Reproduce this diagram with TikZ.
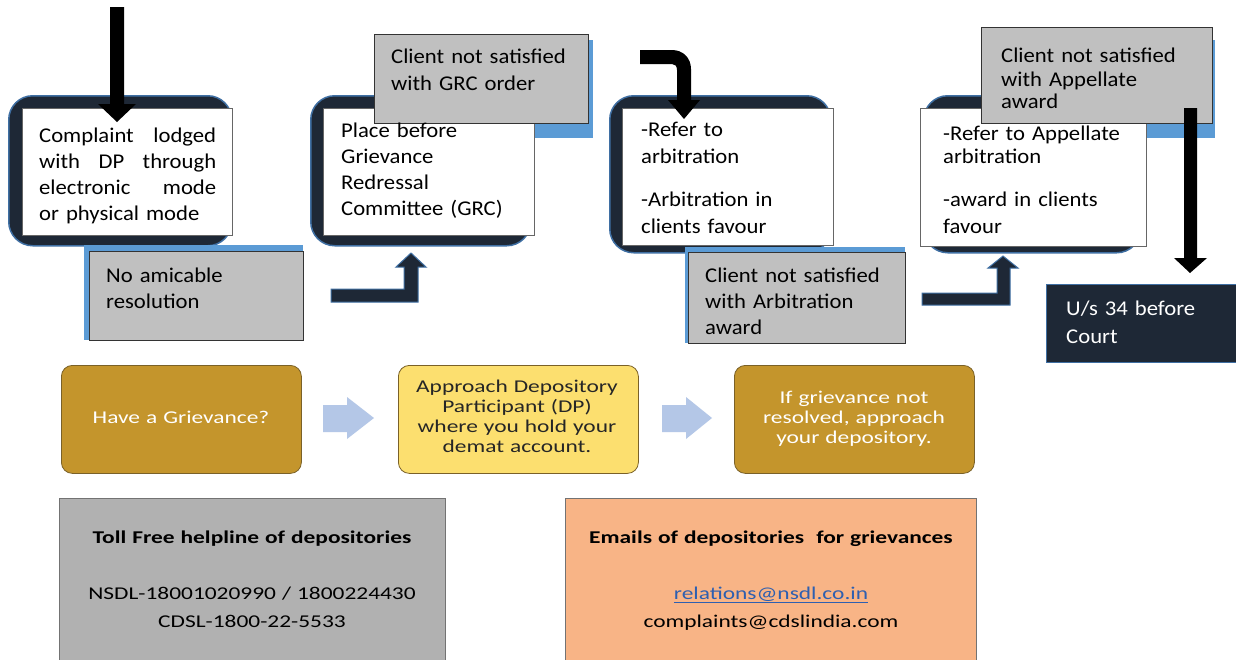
\documentclass[tikz,border=0pt]{standalone}
\usepackage{fontspec}
\setmainfont{Carlito}
\newfontfamily\topf[FakeStretch=1.08]{Carlito}
\newfontfamily\midf[FakeStretch=1.3]{Carlito}
\definecolor{navy}{HTML}{1E2836}
\definecolor{edgeblue}{HTML}{3F6FA3}
\definecolor{stripblue}{HTML}{5B9BD5}
\definecolor{greybox}{HTML}{C0C0C0}
\definecolor{golden}{HTML}{C4952C}
\definecolor{goldedge}{HTML}{7A6128}
\definecolor{yellowbox}{HTML}{FCDF6F}
\definecolor{chevron}{HTML}{B4C7E7}
\definecolor{lowgrey}{HTML}{B1B1B1}
\definecolor{loworange}{HTML}{F8B486}
\definecolor{linkblue}{HTML}{2E5FB0}
\newcommand{\jline}[1]{\leavevmode\hbox to 177pt{#1}}
\begin{document}
\begin{tikzpicture}[x=1pt,y=-1pt,
  darkbox/.style={draw=edgeblue,line width=1.5pt,fill=navy,rounded corners=24pt,anchor=north west,inner sep=0},
  whitebox/.style={draw=black!60,line width=0.6pt,fill=white,anchor=north west,inner sep=0},
  stripbox/.style={fill=stripblue,anchor=north west,inner sep=0},
  greynote/.style={draw=black!80,line width=1pt,fill=greybox,anchor=north west,inner sep=0},
  courtbox/.style={draw=edgeblue,line width=1pt,fill=navy,anchor=north west,inner sep=0},
  stepbox/.style={draw=goldedge,line width=0.8pt,rounded corners=11pt,anchor=north west,inner sep=0,minimum width=240pt,minimum height=108pt},
  infobox/.style={draw=black!55,line width=0.8pt,anchor=north west,inner sep=0},
  toptxt/.style={anchor=base west,inner sep=0,align=left,text width=220pt,font=\topf\fontsize{21}{26}\selectfont},
  midtxt/.style={anchor=base,inner sep=0,align=center,text width=230pt,font=\midf\fontsize{18}{20}\selectfont},
  lowtxt/.style={anchor=base,inner sep=0,align=center,text width=400pt,font=\midf\fontsize{18}{28}\selectfont},
  blackarrow/.style={fill=black},
  elbow/.style={fill=navy,draw=edgeblue,line width=1pt},
  chev/.style={fill=chevron}
]
\useasboundingbox (0,0) rectangle (1236,659);
\fill[white] (0,0) rectangle (1236,659);

% dark rounded backgrounds
\node[darkbox,minimum width=223pt,minimum height=150pt] (d1) at (8,95) {};
\node[darkbox,minimum width=220pt,minimum height=150pt] (d2) at (310,95) {};
\node[darkbox,minimum width=221pt,minimum height=157pt] (d3) at (609,95) {};
\node[darkbox,minimum width=217pt,minimum height=157pt] (d4) at (923,95) {};

% blue strips behind upper grey notes
\node[stripbox,minimum width=213pt,minimum height=98pt] (s2) at (380,40) {};
\node[stripbox,minimum width=215pt,minimum height=98pt] (s4) at (1000,40) {};

% white boxes
\node[whitebox,minimum width=210pt,minimum height=127pt] (w1) at (22,108) {};
\node[whitebox,minimum width=211pt,minimum height=127pt] (w2) at (323,108) {};
\node[whitebox,minimum width=211pt,minimum height=137pt] (w3) at (622,108) {};
\node[whitebox,minimum width=226pt,minimum height=138pt] (w4) at (920,108) {};

% blue strips behind lower grey notes
\node[stripbox,minimum width=219pt,minimum height=95pt] (s1) at (84,245) {};
\node[stripbox,minimum width=220pt,minimum height=96pt] (s3) at (685,247) {};

% grey notes
\node[greynote,minimum width=214pt,minimum height=89pt] (g1) at (89,251) {};
\node[greynote,minimum width=214pt,minimum height=89pt] (g2) at (374,34) {};
\node[greynote,minimum width=217pt,minimum height=91pt] (g3) at (688,252) {};
\node[greynote,minimum width=231pt,minimum height=96pt] (g4) at (981,27) {};
\node[courtbox,minimum width=192pt,minimum height=78pt] (court) at (1046,284) {};

% texts of the upper flow
\node[toptxt] (t1) at (39,142) {\jline{Complaint\hfill lodged}\\\jline{with\hfill DP\hfill through}\\\jline{electronic\hfill mode}\\or physical mode};
\node[toptxt] (t2) at (341,137) {Place before\\Grievance\\Redressal\\Committee (GRC)};
\node[toptxt] (t3) at (641,136) {-Refer to\\[1pt]arbitration\\[17pt]-Arbitration in\\[1pt]clients favour};
\node[toptxt] (t4) at (943,140) {-Refer to Appellate\\[-3pt]arbitration\\[17pt]-award in clients\\[1pt]favour};
\node[toptxt] (tg1) at (106,282) {No amicable\\resolution};
\node[toptxt] (tg2) at (391,63) {Client not satisfied\\[1pt]with GRC order};
\node[toptxt] (tg3) at (705,282) {Client not satisfied\\with Arbitration\\award};
\node[toptxt] (tg4) at (1001,62) {Client not satisfied\\[-2pt]with Appellate\\[-4pt]award};
\node[toptxt,text=white,font=\topf\fontsize{21}{28}\selectfont] (tc) at (1066,315) {U/s 34 before\\Court};

% block arrows
\fill[blackarrow] (110,7) -- (124,7) -- (124,104) -- (136,104) -- (117,122) -- (98,104) -- (110,104) -- cycle;
\fill[blackarrow] (640,50) -- (672,50) .. controls (683,50) and (691,58) .. (691,69) -- (691,100) -- (700,100) -- (684,119) -- (668,100) -- (677,100) -- (677,70) .. controls (677,66) and (675,64) .. (672,64) -- (640,64) -- cycle;
\fill[blackarrow] (1184,108) -- (1197,108) -- (1197,258) -- (1207,258) -- (1190,273) -- (1174,258) -- (1184,258) -- cycle;
\draw[elbow] (331,289) -- (404,289) -- (404,267) -- (396,267) -- (411,253) -- (426,267) -- (418,267) -- (418,302) -- (331,302) -- cycle;
\draw[elbow] (922,293) -- (997,293) -- (997,268) -- (988,268) -- (1003,256) -- (1018,268) -- (1010,268) -- (1010,305) -- (922,305) -- cycle;

% middle steps
\node[stepbox,fill=golden] (m1) at (61,365) {};
\node[stepbox,fill=yellowbox] (m2) at (398,365) {};
\node[stepbox,fill=golden] (m3) at (734,365) {};
\fill[chev] (323,405) -- (347,405) -- (347,397) -- (374,418) -- (347,439) -- (347,432) -- (323,432) -- cycle;
\fill[chev] (662,405) -- (686,405) -- (686,397) -- (712,418) -- (686,439) -- (686,432) -- (662,432) -- cycle;
\node[midtxt,text=white] (mt1) at (181,423) {Have a Grievance?};
\node[midtxt,text=black!85] (mt2) at (517,392) {Approach Depository\\Participant (DP)\\where you hold your\\demat account.};
\node[midtxt,text=white] (mt3) at (854,403) {If grievance not\\resolved, approach\\your depository.};

% bottom info boxes
\node[infobox,fill=lowgrey,minimum width=386pt,minimum height=170pt] (b1) at (59,498) {};
\node[infobox,fill=loworange,minimum width=411pt,minimum height=170pt] (b2) at (565,498) {};
\node[lowtxt,font=\midf\bfseries\fontsize{18}{28}\selectfont] (bt1) at (252,543) {Toll Free helpline of depositories};
\node[lowtxt] (bl1) at (252,599) {NSDL-18001020990 / 1800224430\\CDSL-1800-22-5533};
\node[lowtxt,font=\midf\bfseries\fontsize{18}{28}\selectfont] (bt2) at (771,543) {Emails of depositories\ \ for grievances};
\node[lowtxt] (bl2) at (771,599) {\textcolor{linkblue}{\underline{relations@nsdl.co.in}}\\complaints@cdslindia.com};
\end{tikzpicture}
\end{document}
